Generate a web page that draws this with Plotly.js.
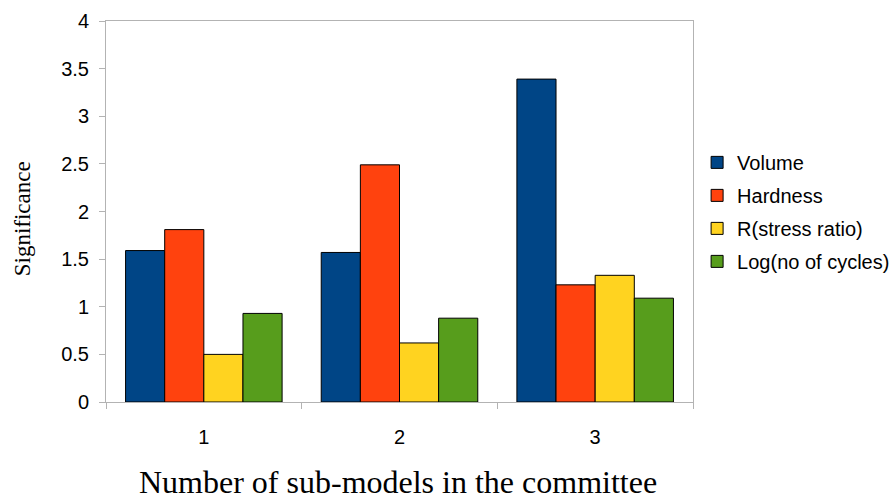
<!DOCTYPE html>
<html>
<head>
<meta charset="utf-8">
<script src="https://cdn.plot.ly/plotly-3.0.1.min.js"></script>
<style>html,body{margin:0;padding:0;background:#fff;}#chart{width:893px;height:500px;}</style>
</head>
<body>
<div id="chart"></div>
<script>
const categories = ["1", "2", "3"];
const seriesNames = ["Volume", "Hardness", "R(stress ratio)", "Log(no of cycles)"];
const volume = [1.59, 1.57, 3.39];
const hardness = [1.81, 2.49, 1.23];
const stressRatio = [0.50, 0.62, 1.33];
const logCycles = [0.93, 0.88, 1.09];
const yTickVals = [0, 0.5, 1, 1.5, 2, 2.5, 3, 3.5, 4];
const yTickText = ["0", "0.5", "1", "1.5", "2", "2.5", "3", "3.5", "4"];
const colors = ["#004586", "#ff420e", "#ffd320", "#579d1c"];

const seriesValues = [volume, hardness, stressRatio, logCycles];
const traces = seriesValues.map((vals, i) => ({
  type: "bar",
  name: seriesNames[i],
  x: categories,
  y: vals,
  legendgroup: "g" + i,
  marker: { color: colors[i], line: { color: "#000000", width: 1 } },
  hoverinfo: "x+y+name"
}));

const axisFont = { family: "Liberation Sans, Arial, sans-serif", size: 20, color: "#000" };

const layout = {
  width: 893,
  height: 500,
  margin: { l: 106, r: 200, t: 21, b: 98, autoexpand: false },
  paper_bgcolor: "#fff",
  plot_bgcolor: "#fff",
  barmode: "group",
  bargap: 0.2,
  bargroupgap: 0,
  showlegend: true,
  legend: {
    x: 1.007, xanchor: "left", y: 0.499, yanchor: "middle",
    font: { family: "Liberation Sans, Arial, sans-serif", size: 20, color: "#000" },
    tracegroupgap: 4,
    bgcolor: "rgba(0,0,0,0)"
  },
  xaxis: {
    type: "category",
    tickson: "boundaries",
    ticks: "outside",
    ticklen: 6,
    tickcolor: "#b3b3b3",
    showline: true,
    mirror: true,
    linecolor: "#b3b3b3",
    linewidth: 1,
    showgrid: false,
    tickfont: axisFont,
    ticklabelstandoff: 17
  },
  yaxis: {
    range: [0, 4],
    tickvals: yTickVals,
    ticktext: yTickText,
    ticks: "outside",
    ticklen: 6,
    tickcolor: "#b3b3b3",
    showline: true,
    mirror: true,
    linecolor: "#b3b3b3",
    linewidth: 1,
    showgrid: false,
    zeroline: false,
    tickfont: axisFont,
    ticklabelstandoff: 6
  },
  annotations: [
    {
      text: "Significance",
      xref: "paper", yref: "paper",
      x: (22 - 106) / 587, y: (401.7 - 219) / 381,
      xanchor: "center", yanchor: "middle",
      textangle: -90, showarrow: false,
      font: { family: "Liberation Serif, Times New Roman, serif", size: 23, color: "#000" }
    },
    {
      text: "Number of sub-models in the committee",
      xref: "paper", yref: "paper",
      x: (398 - 106) / 587, y: (401.7 - 482) / 381,
      xanchor: "center", yanchor: "middle",
      showarrow: false,
      font: { family: "Liberation Serif, Times New Roman, serif", size: 32, color: "#000" }
    }
  ]
};

Plotly.newPlot("chart", traces, layout, { displayModeBar: false, staticPlot: true });
</script>
</body>
</html>
